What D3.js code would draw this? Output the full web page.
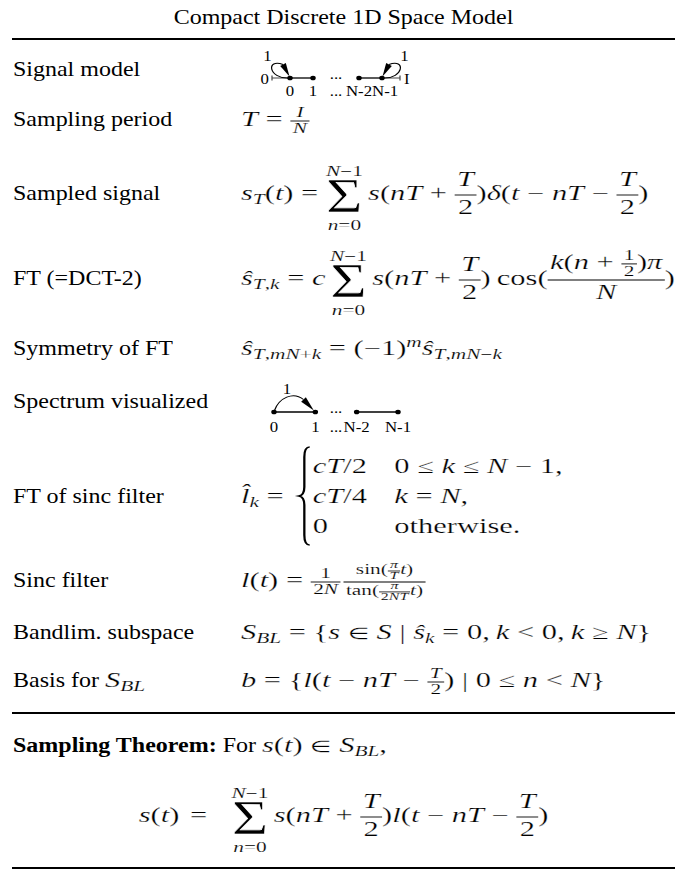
<!DOCTYPE html>
<html>
<head>
<meta charset="utf-8">
<script src="https://cdn.jsdelivr.net/npm/d3@7"></script>
<style>
  html, body { margin: 0; padding: 0; background: #fff; }
  svg { display: block; }
  text { white-space: pre; }
</style>
</head>
<body>
<div id="chart"></div>
<script>
// ---- content of the table ----
const title = "Compact Discrete 1D Space Model";
const rowLabels = ["Signal model", "Sampling period", "Sampled signal", "FT (=DCT-2)", "Symmetry of FT",
                   "Spectrum visualized", "FT of sinc filter", "Sinc filter", "Bandlim. subspace", "Basis for "];
const labelMath = [null, null, null, null, null, null, null, null, null, "§_{BL}"];

// diagrams
const signalNodes = ["0", "1", "...", "N-2", "N-1"];
const signalEnds = ["0", "I"];
const loopLabel = "1";
const spectrumNodes = ["0", "1", "N-2", "N-1"];

// formulas ("§" = calligraphic S, "\word" = upright word)
const samplingPeriod = ["T = ", {frac: [["I"], ["N"]], small: true}];
const sampledSignal = ["s_{T}(t) = ", {sum: true, lo: "n=0", hi: "N−1"}, "s(nT + ", {frac: [["T"], ["2"]]},
                       ")δ(t − nT − ", {frac: [["T"], ["2"]]}, ")"];
const ftDct = ["ŝ_{T,k} = c", {gap: 3}, {sum: true, lo: "n=0", hi: "N−1"}, "s(nT + ", {frac: [["T"], ["2"]]},
               ")\u2009\\cos(", {frac: [["k(n + ", {frac: [["1"], ["2"]], small: true}, ")π"], ["N"]]}, ")"];
const ftSymmetry = ["ŝ_{T,mN+k} = (−1)^{m}ŝ_{T,mN−k}"];
const sincLhs = "l\u0302_{k} = ";
const caseValues = ["cT/2", "cT/4", "0"];
const caseConds = ["0 ≤ k ≤ N − 1,", "k = N,", "\\otherwise."];
const sincFilter = ["l(t) = ", {frac: [["1"], ["2N"]], small: true}, {gap: 2},
                    {frac: [["\\sin(", {frac: [["π"], ["T"]], small: true}, "t)"],
                            ["\\tan(", {frac: [["π"], ["2NT"]], small: true}, "t)"]], small: true}];
const bandlim = ["§_{BL} = {s ∈ § | ŝ_{k} = 0,\u2009k < 0,\u2009k ≥ N}"];
const basis = ["b = {l(t − nT − ", {frac: [["T"], ["2"]], small: true}, ") | 0 ≤ n < N}"];
const rowFormulas = [null, samplingPeriod, sampledSignal, ftDct, ftSymmetry, null, null, sincFilter, bandlim, basis];

const theoremHead = "Sampling Theorem:";
const theoremText = " For ";
const theoremMath = "s(t) ∈ §_{BL},";
const theorem = ["s(t)", {gap: 7}, "=", {gap: 16}, {sum: true, lo: "n=0", hi: "N−1"}, "s(nT + ", {frac: [["T"], ["2"]]},
                 ")l(t − nT − ", {frac: [["T"], ["2"]]}, ")"];

// ---- layout ----
const W = 689, H = 871, SX = 1.2;
const MX = 1.27;                  // math glyphs are wider than the text face
const ux = x => x / SX;           // picture is stretched horizontally
const FONT = "'Liberation Serif','Times New Roman',Times,serif";
const BASE = 20;
const rowBase = [76, 126, 200, 285, 355, 408, 503, 587, 639, 687];
const ruleY = [39, 713, 868];
const labelX = 13, formulaX = 241;

const svg = d3.select('#chart').append('svg')
    .attr('width', W).attr('height', H)
    .attr('viewBox', `0 0 ${W / SX} ${H}`)
    .attr('preserveAspectRatio', 'none');

// split a math string into styled runs
function tokens(str) {
    const out = [];
    const chars = Array.from(str);
    let level = 0;
    const stack = [];
    for (let i = 0; i < chars.length; i++) {
        const c = chars[i];
        if ((c === '_' || c === '^') && chars[i + 1] === '{') {
            stack.push(level);
            level = c === '_' ? -1 : 1;
            i++;
            continue;
        }
        if (c === '}' && stack.length) { level = stack.pop(); continue; }
        let t = c, it, odd = false;
        if (c === '\\') {
            let j = i + 1;
            t = '';
            while (j < chars.length && /[a-zA-Z]/.test(chars[j])) t += chars[j++];
            i = j - 1;
            it = false;
        } else if (c === '§') {
            t = 'S'; it = true; odd = true;
        } else if (c === '∈') {
            it = false; odd = true;   // fallback glyph runs large
        } else {
            it = /[A-Za-zπδŝ\u0302]/.test(c);
        }
        const last = out[out.length - 1];
        if (last && last.it === it && last.level === level && !last.odd && !odd) last.t += t;
        else out.push({t, it, level, odd, small: c === '∈'});
    }
    return out;
}

function mathText(g, x, y, str, size) {
    const t = g.append('text').attr('x', x).attr('y', y)
        .attr('font-family', FONT).attr('font-size', size);
    let cur = 0;
    for (const p of tokens(str)) {
        let fs = p.level ? Math.max(size * 0.7, 10) : size;
        if (p.small) fs *= 0.8;
        const shift = p.level < 0 ? size * 0.22 : p.level > 0 ? -size * 0.42 : 0;
        t.append('tspan').attr('dy', shift - cur).attr('font-size', fs)
            .attr('stroke-width', fs * 0.011)
            .attr('font-style', p.it ? 'italic' : 'normal').text(p.t);
        cur = shift;
    }
    return x + t.node().getComputedTextLength();
}

function layout(g, x, y, items, size) {
    for (const it of items) {
        if (typeof it === 'string') x = mathText(g, x, y, it, size);
        else if (it.gap !== undefined) x += it.gap;
        else if (it.frac) x = frac(g, x, y, it, size);
        else if (it.sum) x = bigSum(g, x, y, it, size);
    }
    return x;
}

// math placed at user x, widened by MX and slightly thinned; returns end x
function mathAt(parent, x, draw) {
    const g = parent.append('g').attr('transform', `translate(${x},0) scale(${MX},1)`)
        .attr('stroke', '#fff');
    return x + draw(g) * MX;
}

function frac(g, x, y, f, size) {
    const inner = f.small ? Math.max(size * 0.7, 10.5) : size;
    const axis = y - size * 0.25;
    const numG = g.append('g'), denG = g.append('g');
    const wn = layout(numG, 0, 0, f.frac[0], inner);
    const wd = layout(denG, 0, 0, f.frac[1], inner);
    const pad = size * 0.08;
    const w = Math.max(wn, wd) + 2 * pad;
    const nb = numG.node().getBBox(), db = denG.node().getBBox();
    const gap = f.small ? 1 : 2;
    const numY = Math.min(f.small ? y - size * 0.39 : y - size * 0.68, axis - gap - (nb.y + nb.height) * 0.9);
    const denY = Math.max(f.small ? y + size * 0.35 : y + size * 0.69, axis + gap - db.y * 0.78);
    numG.attr('transform', `translate(${x + (w - wn) / 2},${numY})`);
    denG.attr('transform', `translate(${x + (w - wd) / 2},${denY})`);
    g.append('line').attr('x1', x).attr('x2', x + w).attr('y1', axis).attr('y2', axis)
        .attr('stroke', '#000').attr('stroke-width', size * 0.045);
    return x + w;
}

function bigSum(g, x, y, s, size) {
    const ls = size * 0.7;
    const ws = 24;
    const sig = g.append('text').attr('y', y + size * 0.6).attr('font-family', FONT)
        .attr('font-size', size * 2.4).attr('textLength', ws).attr('lengthAdjust', 'spacingAndGlyphs')
        .attr('stroke-width', 0.55).text('Σ');
    const hi = g.append('g'), lo = g.append('g');
    const wh = layout(hi, 0, 0, [s.hi], ls), wl = layout(lo, 0, 0, [s.lo], ls);
    const w = Math.max(ws, wh, wl);
    sig.attr('x', x + (w - ws) / 2);
    hi.attr('transform', `translate(${x + (w - wh) / 2},${y - size * 1.22})`);
    lo.attr('transform', `translate(${x + (w - wl) / 2},${y + size * 1.5})`);
    return x + w + size * 0.17;
}

function plainText(g, x, y, str, size, weight) {
    const t = g.append('text').attr('x', x).attr('y', y).attr('font-family', FONT)
        .attr('font-size', size).attr('font-weight', weight || 'normal').text(str);
    return x + t.node().getComputedTextLength();
}

function arrowHead(g, tip, base, half) {
    const dx = tip[0] - base[0], dy = tip[1] - base[1], L = Math.hypot(dx, dy);
    const nx = -dy / L * half, ny = dx / L * half;
    const pts = [tip, [base[0] + nx, base[1] + ny], [base[0] - nx, base[1] - ny]];
    g.append('path').attr('d', 'M' + pts.map(p => `${ux(p[0])},${p[1]}`).join('L') + 'Z').attr('fill', '#000');
}

// ---- title and rules ----
svg.append('text').attr('x', ux(343.5)).attr('y', 24).attr('text-anchor', 'middle')
    .attr('font-family', FONT).attr('font-size', BASE).text(title);

svg.selectAll('line.rule').data(ruleY).join('line').attr('class', 'rule')
    .attr('x1', ux(12)).attr('x2', ux(675)).attr('y1', d => d).attr('y2', d => d)
    .attr('stroke', '#000').attr('stroke-width', 2);

// ---- labels ----
rowLabels.forEach((lab, i) => {
    const end = plainText(svg, ux(labelX), rowBase[i], lab, BASE);
    if (labelMath[i]) mathAt(svg, end, g => mathText(g, 0, rowBase[i], labelMath[i], BASE));
});

// ---- formulas ----
rowFormulas.forEach((items, i) => {
    if (items) mathAt(svg, ux(formulaX), g => layout(g, 0, rowBase[i], items, BASE));
});

// FT of sinc filter (cases)
mathAt(svg, ux(formulaX), g => {
    const y = rowBase[6];
    const ex = mathText(g, 0, y, sincLhs, BASE);
    const top = y - 56, bot = y + 42, mid = (top + bot) / 2;
    const bw = 7, bx = ex + 5, xi = bx + bw * 0.5;
    g.append('path')
        .attr('d', `M${bx + bw},${top} Q${xi},${top} ${xi},${top + 10} L${xi},${mid - 9} Q${xi},${mid - 1} ${bx},${mid}` +
                   ` Q${xi},${mid + 1} ${xi},${mid + 9} L${xi},${bot - 10} Q${xi},${bot} ${bx + bw},${bot}`)
        .attr('fill', 'none').attr('stroke', '#000').attr('stroke-width', 1.5);
    const c1 = bx + bw + 2;
    const ys = caseValues.map((_, i) => y + (i - 1) * 30);
    const w1 = d3.max(caseValues.map((v, i) => mathText(g, c1, ys[i], v, BASE) - c1));
    const c2 = c1 + w1 + BASE * 0.9;
    return d3.max(caseConds.map((v, i) => mathText(g, c2, ys[i], v, BASE)));
});

// ---- signal model diagram ----
{
    const g = svg.append('g');
    const y = rowBase[0] + 2;
    const x = d3.scalePoint().domain(signalNodes).range([290, 382]);
    const real = signalNodes.filter(d => d !== "...");
    const xl = x("0") - 18, xr = x("N-1") + 18;
    // boundary lines and ticks
    g.append('line').attr('x1', ux(xl)).attr('x2', ux(x("0"))).attr('y1', y).attr('y2', y).attr('stroke', '#444').attr('stroke-width', 1);
    g.append('line').attr('x1', ux(x("N-1"))).attr('x2', ux(xr)).attr('y1', y).attr('y2', y).attr('stroke', '#444').attr('stroke-width', 1);
    [xl, xr].forEach(v => g.append('line').attr('x1', ux(v)).attr('x2', ux(v)).attr('y1', y - 2.5).attr('y2', y + 2.5)
        .attr('stroke', '#444').attr('stroke-width', 1));
    g.append('text').attr('x', ux(xl - 3)).attr('y', y + 6).attr('text-anchor', 'end')
        .attr('font-family', FONT).attr('font-size', 14).text(signalEnds[0]);
    g.append('text').attr('x', ux(xr + 4)).attr('y', y + 6).attr('text-anchor', 'start')
        .attr('font-family', FONT).attr('font-size', 14).text(signalEnds[1]);
    // edges
    [["0", "1"], ["N-2", "N-1"]].forEach(([a, b]) =>
        g.append('line').attr('x1', ux(x(a))).attr('x2', ux(x(b))).attr('y1', y).attr('y2', y)
            .attr('stroke', '#000').attr('stroke-width', 1.3));
    g.selectAll('circle').data(real).join('circle')
        .attr('cx', d => ux(x(d))).attr('cy', y).attr('r', 2.3).attr('fill', '#000');
    g.append('text').attr('x', ux(x("..."))).attr('y', y + 1.5).attr('text-anchor', 'middle')
        .attr('font-family', FONT).attr('font-size', 14).text('...');
    // labels below, pushed apart if they collide
    let prevEnd = -Infinity;
    signalNodes.forEach(d => {
        const t = g.append('text').attr('y', y + 18).attr('font-family', FONT).attr('font-size', 14).text(d);
        const w = t.node().getComputedTextLength() * SX;
        const cx = Math.max(x(d), prevEnd + w / 2);
        t.attr('x', ux(cx)).attr('text-anchor', 'middle');
        prevEnd = cx + w / 2;
    });
    // self loops
    [["0", -1], ["N-1", 1]].forEach(([d, dir]) => {
        const nx = x(d);
        const P = (a, b) => `${ux(nx + dir * a)},${y + b}`;
        g.append('path').attr('d', `M${P(1, 0)} C${P(22, 1)} ${P(24, -20)} ${P(7, -13.5)}`)
            .attr('fill', 'none').attr('stroke', '#000').attr('stroke-width', 1);
        arrowHead(g, [nx + dir * 0.5, y - 1.5], [nx + dir * 7, y - 13.5], 3.2);
        g.append('text').attr('x', ux(nx + dir * 22.5)).attr('y', y - 16.5).attr('text-anchor', 'middle')
            .attr('font-family', FONT).attr('font-size', 14).text(loopLabel);
    });
}

// ---- spectrum diagram ----
{
    const g = svg.append('g');
    const y = rowBase[5] + 4;
    const x = d3.scalePoint().domain(spectrumNodes).range([274, 398]);
    [["0", "1"], ["N-2", "N-1"]].forEach(([a, b]) =>
        g.append('line').attr('x1', ux(x(a))).attr('x2', ux(x(b))).attr('y1', y).attr('y2', y)
            .attr('stroke', '#000').attr('stroke-width', 1.3));
    g.selectAll('circle').data(spectrumNodes).join('circle')
        .attr('cx', d => ux(x(d))).attr('cy', y).attr('r', 2.3).attr('fill', '#000');
    const xm = (x("1") + x("N-2")) / 2;
    g.append('text').attr('x', ux(xm)).attr('y', y + 1.5).attr('text-anchor', 'middle')
        .attr('font-family', FONT).attr('font-size', 14).text('...');
    spectrumNodes.forEach(d => g.append('text').attr('x', ux(x(d))).attr('y', y + 20).attr('text-anchor', 'middle')
        .attr('font-family', FONT).attr('font-size', 14).text(d));
    g.append('text').attr('x', ux(xm)).attr('y', y + 20).attr('text-anchor', 'middle')
        .attr('font-family', FONT).attr('font-size', 14).text('...');
    const x0 = x("0"), x1 = x("1");
    g.append('path').attr('d', `M${ux(x0 + 0.5)},${y - 1.5} C${ux(x0 + 5)},${y - 14} ${ux(x0 + 19)},${y - 21} ${ux(x0 + 29.5)},${y - 12.5}`)
        .attr('fill', 'none').attr('stroke', '#000').attr('stroke-width', 1);
    arrowHead(g, [x1 - 1.5, y - 1.5], [x0 + 29.5, y - 12.5], 3.2);
    g.append('text').attr('x', ux(x0 + 13)).attr('y', y - 18).attr('text-anchor', 'middle')
        .attr('font-family', FONT).attr('font-size', 14).text(loopLabel);
}

// ---- sampling theorem ----
{
    const y = 752;
    let x = plainText(svg, ux(labelX), y, theoremHead, BASE, 'bold');
    x = plainText(svg, x, y, theoremText, BASE);
    mathAt(svg, x, g => mathText(g, 0, y, theoremMath, BASE));

    const outer = svg.append('g');
    const g = outer.append('g').attr('stroke', '#fff');
    const w = layout(g, 0, 822, theorem, BASE);
    g.attr('transform', `scale(${MX},1)`);
    outer.attr('transform', `translate(${ux(343.5) - w * MX / 2},0)`);
}
</script>
</body>
